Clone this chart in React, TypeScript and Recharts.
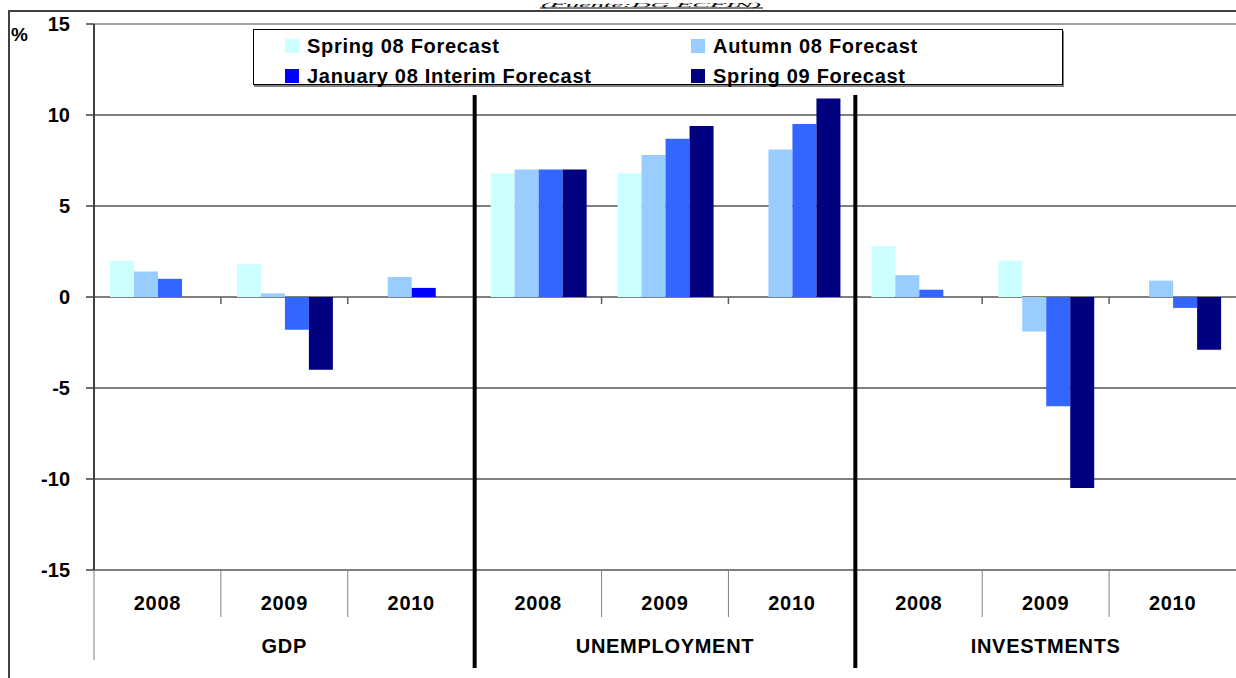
import { BarChart, Bar, XAxis, YAxis, CartesianGrid, ReferenceLine, Legend, Cell } from "recharts";

const groups = ["GDP", "UNEMPLOYMENT", "INVESTMENTS"];
const years = ["2008", "2009", "2010"];
const seriesNames = ["Spring 08 Forecast", "Autumn 08 Forecast", "January 08 Interim Forecast", "Spring 09 Forecast"];

// one value per group/year, in order GDP 08-10, UNEMPLOYMENT 08-10, INVESTMENTS 08-10
const spring08 = [2.0, 1.8, null, 6.8, 6.8, null, 2.8, 2.0, null];
const autumn08 = [1.4, 0.2, 1.1, 7.0, 7.8, 8.1, 1.2, -1.9, 0.9];
const jan08 = [1.0, -1.8, 0.5, 7.0, 8.7, 9.5, 0.4, -6.0, -0.6];
const spring09 = [null, -4.0, null, 7.0, 9.4, 10.9, null, -10.5, -2.9];

const yTicks = [-15, -10, -5, 0, 5, 10, 15];

// the interim series is pure blue in the legend, most of its bars were recoloured
const janFills = ["#3366FF", "#3366FF", "#0000FF", "#3366FF", "#3366FF", "#3366FF", "#3366FF", "#3366FF", "#3366FF"];

const rows = groups.flatMap((group, gi) =>
  years.map((year, yi) => {
    const i = gi * 3 + yi;
    return {
      id: `${group} ${year}`,
      group,
      year,
      spring08: spring08[i],
      autumn08: autumn08[i],
      jan08: jan08[i],
      spring09: spring09[i],
    };
  })
);

const font = "'Liberation Sans', Arial, sans-serif";

function CategoryTick(props: any) {
  const { x, y, payload } = props;
  const row = rows.find((r) => r.id === payload.value);
  if (!row) return null;
  const txt = { fontFamily: font, fontWeight: 700, fontSize: 20, fill: "#000", letterSpacing: 0.7 } as const;
  return (
    <g>
      <text x={x} y={y + 40} textAnchor="middle" style={txt}>
        {row.year}
      </text>
      {row.year === years[1] && (
        <text x={x} y={y + 83} textAnchor="middle" style={txt}>
          {row.group}
        </text>
      )}
    </g>
  );
}

const divider = (depth: number, zeroTick: boolean) => (p: any) => {
  const top = Math.min(p.y1, p.y2);
  const bottom = Math.max(p.y1, p.y2);
  const mid = (top + bottom) / 2;
  return (
    <g>
      <line x1={p.x1} x2={p.x1} y1={bottom} y2={bottom + depth} stroke="#808080" strokeWidth={1} />
      {zeroTick && <line x1={p.x1} x2={p.x1} y1={mid} y2={mid + 7} stroke="#606060" strokeWidth={1.5} />}
    </g>
  );
};

const separator = (p: any) => {
  const top = Math.min(p.y1, p.y2);
  const bottom = Math.max(p.y1, p.y2);
  return <line x1={p.x1} x2={p.x1} y1={top + 71} y2={bottom + 98} stroke="#000" strokeWidth={4} />;
};

function LegendBox({ payload }: any) {
  const items = [...(payload || [])].sort((a: any, b: any) => seriesNames.indexOf(a.value) - seriesNames.indexOf(b.value));
  return (
    <div
      style={{
        position: "relative",
        width: 808,
        height: 54,
        border: "1px solid #000",
        boxShadow: "1px 2px 0 #808080",
        background: "#fff",
        fontFamily: font,
        fontWeight: 700,
        fontSize: 20,
        letterSpacing: 0.7,
        color: "#000",
      }}
    >
      {items.map((e: any, i: number) => (
        <div
          key={e.value}
          style={{
            position: "absolute",
            left: i % 2 ? 437 : 31,
            top: i < 2 ? 4 : 34,
            height: 24,
            display: "flex",
            alignItems: "center",
            whiteSpace: "nowrap",
          }}
        >
          <span style={{ display: "inline-block", width: 14, height: 14, background: e.color, marginRight: 8 }} />
          {e.value}
        </div>
      ))}
    </div>
  );
}

export default function App() {
  return (
    <div style={{ position: "absolute", left: 0, top: 0, width: 1236, height: 678, background: "#fff", overflow: "hidden" }}>
      <BarChart
        width={1236}
        height={678}
        data={rows}
        margin={{ top: 24, right: 0, bottom: 0, left: 34 }}
        barCategoryGap={16}
        barGap={0}
      >
        <CartesianGrid vertical={false} stroke="#000" strokeWidth={1} />
        <XAxis dataKey="id" height={108} axisLine={false} tickLine={false} tickSize={0} tickMargin={0} interval={0} tick={<CategoryTick />} />
        <YAxis
          domain={[-15, 15]}
          ticks={yTicks}
          width={60}
          interval={0}
          tickSize={8}
          tickMargin={16}
          axisLine={{ stroke: "#404040", strokeWidth: 2 }}
          tickLine={{ stroke: "#404040", strokeWidth: 1.5 }}
          tick={{ fontFamily: font, fontWeight: 700, fontSize: 20, fill: "#000" }}
        />
        <Legend
          layout="horizontal"
          align="center"
          verticalAlign="middle"
          wrapperStyle={{ position: "absolute", left: 253, top: 29, width: 810, height: 56 }}
          content={<LegendBox />}
        />
        <ReferenceLine y={15} stroke="#a0a0a0" strokeWidth={2} />
        <ReferenceLine y={-15} stroke="#808080" strokeWidth={2} />
        {rows.map((r, i) => {
          const first = r.year === years[0];
          if (i === 0) return <ReferenceLine key={r.id} x={r.id} position="start" shape={divider(90, false)} />;
          if (first) return <ReferenceLine key={r.id} x={r.id} position="start" shape={separator} />;
          return <ReferenceLine key={r.id} x={r.id} position="start" shape={divider(47, true)} />;
        })}
        <Bar dataKey="spring08" name={seriesNames[0]} fill="#CCFFFF" isAnimationActive={false} />
        <Bar dataKey="autumn08" name={seriesNames[1]} fill="#99CCFF" isAnimationActive={false} />
        <Bar dataKey="jan08" name={seriesNames[2]} fill="#0000FF" isAnimationActive={false}>
          {rows.map((r, i) => (
            <Cell key={r.id} fill={janFills[i]} />
          ))}
        </Bar>
        <Bar dataKey="spring09" name={seriesNames[3]} fill="#000080" isAnimationActive={false} />
      </BarChart>
      <svg width={1236} height={678} style={{ position: "absolute", left: 0, top: 0, pointerEvents: "none" }}>
        <line x1={8} x2={1236} y1={11} y2={11} stroke="#404040" strokeWidth={2} />
        <line x1={9} x2={9} y1={10} y2={678} stroke="#404040" strokeWidth={2} />
        <text
          x={651}
          y={6.5}
          textAnchor="middle"
          textLength={220}
          lengthAdjust="spacingAndGlyphs"
          style={{ fontFamily: "'Liberation Serif', 'Times New Roman', serif", fontStyle: "italic", fontSize: 6.5, fill: "#000" }}
        >
          (Fuente:DG ECFIN)
        </text>
        <line x1={540} x2={763} y1={8} y2={8} stroke="#000" strokeWidth={1.2} />
        <text x={11} y={41} style={{ fontFamily: font, fontWeight: 700, fontSize: 19, fill: "#000" }}>
          %
        </text>
      </svg>
    </div>
  );
}
